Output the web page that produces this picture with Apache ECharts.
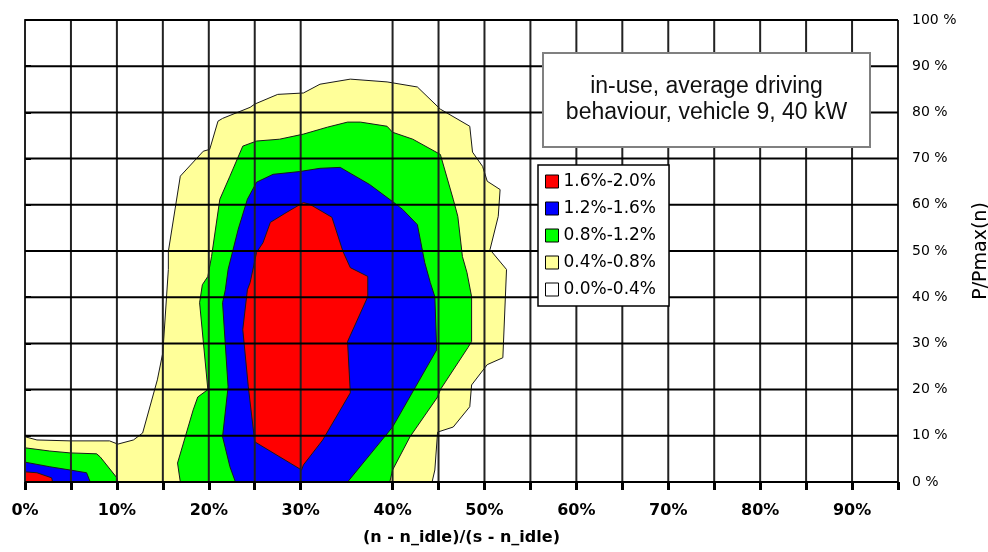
<!DOCTYPE html>
<html>
<head>
<meta charset="utf-8">
<script src="https://cdn.jsdelivr.net/npm/echarts@6/dist/echarts.min.js"></script>
<style>
html,body{margin:0;padding:0;background:#fff;}
#chart{width:988px;height:552px;}
</style>
</head>
<body>
<div id="chart"></div>
<script>
// Axis ticks / grid positions (percent)
const xGridValues = [0,5,10,15,20,25,30,40,45,50,55,60,65,70,75,80,85,90,95];
const xLabelValues = [0,10,20,30,40,50,60,70,80,90];
const yGridValues = [0,10,20,30,40,50,60,70,80,90,100];

// Legend / class names
const classNames = ['1.6%-2.0%','1.2%-1.6%','0.8%-1.2%','0.4%-0.8%','0.0%-0.4%'];

// Contour boundaries: [x %, P/Pmax %]
const band04Main = [[0,0],[0,9.8],[1.3,9.1],[4.9,8.9],[9.2,8.9],[10.1,8.2],[11.8,9.1],[12.8,10.6],[14.4,22.1],[15.0,28.0],[15.6,46.0],[15.6,49.9],[16.9,66.2],[19.4,71.6],[20.1,72.0],[21.0,78.1],[21.5,78.7],[24.5,81.1],[25.0,81.8],[27.5,83.9],[30.3,84.2],[32.1,86.1],[35.4,87.2],[39.4,86.6],[42.7,85.5],[45.2,80.7],[48.4,77.0],[48.7,71.4],[49.8,68.3],[50.3,65.1],[51.7,63.3],[51.5,57.5],[50.6,50.3],[52.4,46.0],[52.0,26.9],[50.3,25.4],[48.6,21.0],[48.4,16.3],[46.6,11.9],[44.9,10.8],[44.6,2.6],[44.3,0]];
const band08Main = [[16.9,0],[16.6,4.1],[18.3,15.6],[18.8,18.4],[19.9,20.0],[19.0,38.8],[19.3,42.7],[19.9,44.5],[20.3,48.8],[21.2,61.2],[22.3,66.2],[23.7,72.7],[25.2,73.8],[27.7,74.2],[30.3,75.3],[32.9,76.8],[35.1,77.9],[36.5,77.9],[39.4,77.0],[40.0,75.7],[42.2,74.2],[45.2,70.9],[46.6,61.2],[47.1,57.5],[47.6,48.8],[48.1,45.3],[48.6,40.1],[48.6,30.4],[48.2,29.1],[45.2,20.0],[44.9,18.4],[41.9,9.8],[40.0,2.6],[39.7,0]];
const band08Corner = [[0,0],[0,7.4],[2.7,6.7],[4.9,6.3],[7.8,6.1],[8.2,5.4],[10.0,0.9],[10.1,0]];
const band12Main = [[22.9,0],[22.3,3.3],[21.5,9.8],[22.1,20.6],[21.5,38.8],[21.8,41.6],[22.1,46.0],[23.2,54.7],[24.2,61.2],[25.2,64.9],[27.0,66.6],[29.9,67.2],[32.1,67.9],[34.3,68.1],[37.5,64.4],[40.0,60.7],[41.1,59.0],[42.7,55.7],[43.5,47.5],[44.1,43.2],[44.6,40.1],[44.8,28.6],[40.0,11.9],[35.1,0]];
const band12Corner = [[0,0],[0,4.3],[2.7,3.3],[4.9,2.6],[6.7,2.0],[7.1,0]];
const band16Main = [[30.1,2.6],[25.0,8.7],[24.3,20.6],[23.7,33.0],[24.2,41.6],[24.5,43.2],[25.2,49.7],[25.9,51.8],[26.7,56.2],[28.5,58.4],[30.3,60.5],[31.0,60.1],[33.4,57.3],[34.6,49.9],[35.4,46.4],[37.3,44.5],[37.3,40.1],[35.1,30.4],[35.4,19.3],[32.4,9.1],[30.3,3.7]];
const band16Corner = [[0,0],[0,2.2],[1.3,2.0],[2.9,0.9],[3.0,0]];

const chart = echarts.init(document.getElementById('chart'), null, {renderer:'canvas'});

function contourSeries(name, color, polys) {
  return {
    type: 'custom',
    name: name,
    coordinateSystem: 'cartesian2d',
    itemStyle: {color: color},
    silent: true,
    clip: true,
    z: 2,
    data: polys.map((p, i) => [p[0][0], p[0][1], i]),
    renderItem: function (params, api) {
      const pts = polys[params.dataIndex].map(pt => api.coord(pt));
      return {
        type: 'polygon',
        shape: {points: pts},
        style: {fill: color, stroke: '#1a1a1a', lineWidth: 1}
      };
    }
  };
}

const FONT = '"DejaVu Sans", "Liberation Sans", sans-serif';

const option = {
  animation: false,
  backgroundColor: '#ffffff',
  grid: {left: 25, right: 90, top: 20, bottom: 70, containLabel: false, outerBoundsMode: 'none'},
  xAxis: {
    type: 'value', min: 0, max: 95, interval: 5,
    name: '(n - n_idle)/(s - n_idle)',
    nameLocation: 'middle', nameGap: 48,
    nameTextStyle: {fontFamily: FONT, fontWeight: 'bold', fontSize: 16, color: '#000'},
    axisLine: {show: true, lineStyle: {color: '#000', width: 2}},
    axisTick: {show: true, customValues: xGridValues, length: 8, lineStyle: {color: '#000', width: 3}},
    axisLabel: {customValues: xLabelValues, formatter: v => v + '%', margin: 21,
      fontFamily: FONT, fontWeight: 'bold', fontSize: 16, color: '#000'},
    splitLine: {show: false}
  },
  yAxis: {
    type: 'value', min: 0, max: 100, interval: 10, position: 'right',
    name: 'P/Pmax(n)', nameLocation: 'middle', nameGap: 74,
    nameTextStyle: {fontFamily: FONT, fontSize: 19, color: '#000'},
    axisLine: {show: true, lineStyle: {color: '#000', width: 2}},
    axisTick: {show: true, length: 6, lineStyle: {color: '#000', width: 2}},
    axisLabel: {formatter: v => v + ' %', margin: 14, fontFamily: FONT, fontSize: 14, color: '#000'},
    splitLine: {show: false}
  },
  legend: {
    orient: 'vertical',
    left: 538, top: 165,
    data: classNames,
    icon: 'rect',
    itemWidth: 13, itemHeight: 13, itemGap: 10,
    padding: [8, 13, 8, 7],
    backgroundColor: '#fff',
    borderColor: '#000', borderWidth: 1.5,
    itemStyle: {borderColor: '#000', borderWidth: 1},
    textStyle: {fontFamily: FONT, fontSize: 17, color: '#000'},
    selectedMode: false,
    z: 20
  },
  graphic: [
    {type: 'rect', x: 543, y: 53, z: 100,
     shape: {x: 0, y: 0, width: 327, height: 94},
     style: {fill: '#fff', stroke: '#808080', lineWidth: 2}},
    {type: 'text', x: 706.5, y: 100, z: 101,
     style: {text: 'in-use, average driving\nbehaviour, vehicle 9, 40 kW',
             font: '23px "Liberation Sans", Arial, sans-serif', fill: '#111',
             align: 'center', verticalAlign: 'middle', lineHeight: 26}}
  ],
  series: [
    contourSeries(classNames[3], '#FFFF99', [band04Main]),
    contourSeries(classNames[2], '#00FF00', [band08Main, band08Corner]),
    contourSeries(classNames[1], '#0000FF', [band12Main, band12Corner]),
    contourSeries(classNames[0], '#FF0000', [band16Main, band16Corner]),
    {type: 'custom', name: classNames[4], itemStyle: {color: '#ffffff'}, data: [], renderItem: () => null},
    {
      type: 'custom', name: 'vgrid', silent: true, z: 5,
      data: xGridValues.map(v => [v, 0]),
      renderItem: function (params, api) {
        const a = api.coord([api.value(0), 0]);
        const b = api.coord([api.value(0), 100]);
        return {type: 'line', shape: {x1: a[0], y1: a[1], x2: b[0], y2: b[1]},
                style: {stroke: '#222', lineWidth: 2}};
      }
    },
    {
      type: 'custom', name: 'hgrid', silent: true, z: 5,
      data: yGridValues.map(v => [0, v]),
      renderItem: function (params, api) {
        const a = api.coord([0, api.value(1)]);
        const b = api.coord([95, api.value(1)]);
        return {type: 'line', shape: {x1: a[0], y1: a[1], x2: b[0], y2: b[1]},
                style: {stroke: '#000', lineWidth: 2}};
      }
    }
  ]
};
chart.setOption(option);
</script>
</body>
</html>
